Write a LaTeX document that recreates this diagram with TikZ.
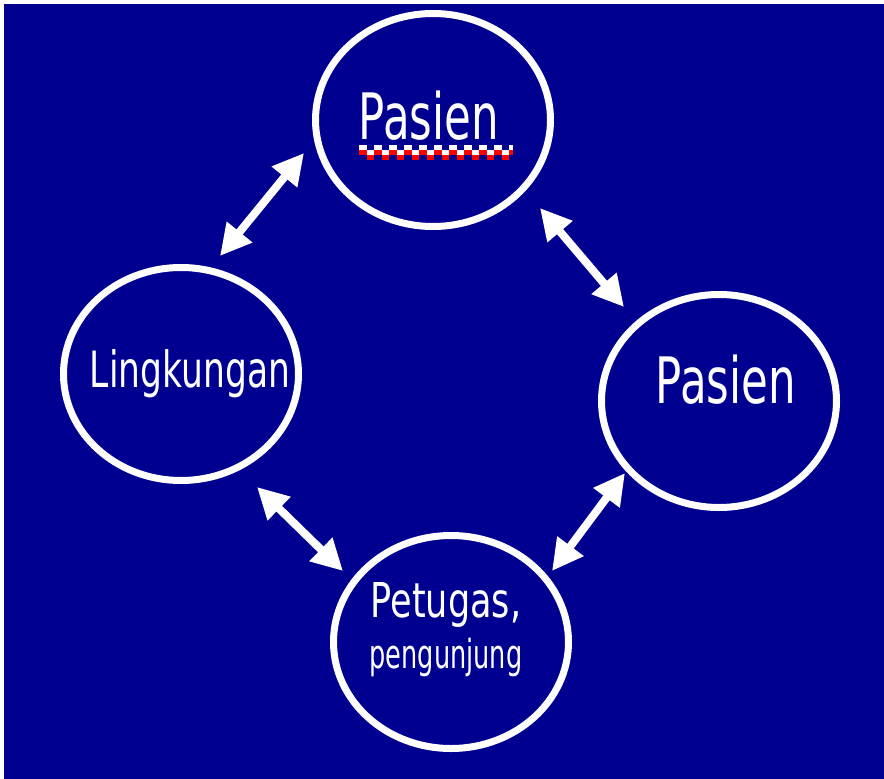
\documentclass[tikz,border=0pt]{standalone}
\usepackage{fontspec}
\setmainfont{DejaVu Sans}
\usetikzlibrary{shapes.geometric,arrows.meta}
\definecolor{navy}{RGB}{0,0,144}
\definecolor{spellred}{RGB}{255,0,0}
\tikzset{
  ring/.style={ellipse, draw=white, line width=7pt, minimum width=235pt, minimum height=213pt, inner sep=0pt},
  label/.style={anchor=base, text=white, inner sep=0pt},
  twoway/.style={draw=white, line width=8pt, {Triangle[length=31pt,width=31pt]}-{Triangle[length=31pt,width=31pt]}},
}
\newcommand{\squeezed}[3]{{\fontsize{#1}{#1}\selectfont\scalebox{#2}[1]{#3}}}
\begin{document}
\begin{tikzpicture}[x=1pt,y=-1pt]
  % canvas and panel
  \fill[white] (0,0) rectangle (884,779);
  \fill[navy] (4,4) rectangle (884,779);
  \useasboundingbox (0,0) rectangle (884,779);

  % the four rings
  \node[ring] (top)    at (433,120) {};
  \node[ring] (left)   at (181,374) {};
  \node[ring] (right)  at (719,401) {};
  \node[ring] (bottom) at (451,642) {};

  % texts
  \node[label] (ttop)   at (429,139) {\squeezed{64}{0.68}{Pasien}};
  \node[label] (tright) at (726,403) {\squeezed{64}{0.68}{Pasien}};
  \node[label] (tleft)  at (190,387) {\squeezed{50}{0.69}{Lingkungan}};
  \node[label] (tpet)   at (446,617) {\squeezed{48}{0.73}{Petugas,}};
  \node[label] (tpeng)  at (446,668) {\squeezed{40}{0.64}{pengunjung}};

  % spelling squiggle under the top word
  \coordinate (sqA) at (359,147.5);
  \coordinate (sqB) at (513,147.5);
  \coordinate (sqC) at (359,152.5);
  \coordinate (sqD) at (513,152.5);
  \coordinate (sqE) at (359,157.5);
  \coordinate (sqF) at (513,157.5);
  \draw[white, line width=5pt, dash pattern=on 7.5pt off 7.5pt] (sqA) -- (sqB);
  \draw[spellred, line width=5pt, dash pattern=on 7.5pt off 7.5pt] (sqC) -- (sqD);
  \draw[white, line width=5pt, dash pattern=on 7.5pt off 7.5pt, dash phase=7.5pt] (sqC) -- (sqD);
  \draw[spellred, line width=5pt, dash pattern=on 7.5pt off 7.5pt, dash phase=7.5pt] (sqE) -- (sqF);

  % double arrows between the rings
  \coordinate (a1s) at (220,256); \coordinate (a1e) at (304,153);
  \coordinate (a2s) at (540,208); \coordinate (a2e) at (624,307);
  \coordinate (a3s) at (257,487); \coordinate (a3e) at (343,571);
  \coordinate (a4s) at (552,571); \coordinate (a4e) at (625,473);
  \draw[twoway] (a1s) -- (a1e);
  \draw[twoway] (a2s) -- (a2e);
  \draw[twoway] (a3s) -- (a3e);
  \draw[twoway] (a4s) -- (a4e);
\end{tikzpicture}
\end{document}
